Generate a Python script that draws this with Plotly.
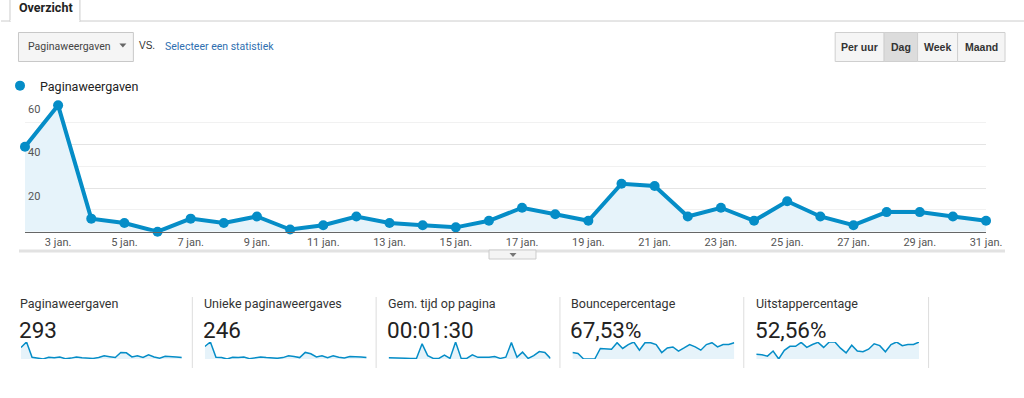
import plotly.graph_objects as go

# ---------------- data ----------------
dagen = [2, 3, 4, 5, 6, 7, 8, 9, 10, 11, 12, 13, 14, 15, 16,
         17, 18, 19, 20, 21, 22, 23, 24, 25, 26, 27, 28, 29, 30, 31]
tick_dagen = [3, 5, 7, 9, 11, 13, 15, 17, 19, 21, 23, 25, 27, 29, 31]
tick_labels = ["3 jan.", "5 jan.", "7 jan.", "9 jan.", "11 jan.", "13 jan.", "15 jan.",
               "17 jan.", "19 jan.", "21 jan.", "23 jan.", "25 jan.", "27 jan.",
               "29 jan.", "31 jan."]

paginaweergaven = [39, 58, 6, 4, 0, 6, 4, 7, 1, 3, 7, 4, 3, 2, 5,
                   11, 8, 5, 22, 21, 7, 11, 5, 14, 7, 3, 9, 9, 7, 5]
unieke_paginaweergaves = [36, 49, 5, 4, 0, 5, 4, 6, 1, 3, 6, 4, 3, 2, 4,
                          9, 7, 4, 19, 15, 6, 9, 4, 9, 5, 3, 7, 7, 6, 4]
tijd_op_pagina_sec = [45, 45, 40, 25, 20, 25, 500, 110, 20, 20, 130, 20, 560, 20, 20,
                      135, 55, 50, 60, 80, 20, 60, 540, 60, 225, 20, 110, 245, 215, 20]
bouncepercentage = [38, 33, 0, 0, 0, 62, 62, 58, 96, 62, 85, 100, 52, 96, 96,
                    85, 38, 65, 71, 46, 65, 85, 71, 52, 85, 96, 71, 85, 85, 96]
uitstappercentage = [26, 24, 16, 44, 0, 48, 70, 70, 92, 64, 80, 92, 64, 94, 94,
                     60, 34, 76, 44, 40, 54, 84, 74, 40, 80, 94, 74, 80, 80, 94]

y_tickvals = [20, 40, 60]
y_ticktext = ["20", "40", "60"]

kaart_labels = ["Paginaweergaven", "Unieke paginaweergaves", "Gem. tijd op pagina",
                "Bouncepercentage", "Uitstappercentage"]
kaart_waarden = ["293", "246", "00:01:30", "67,53%", "52,56%"]
kaart_reeksen = [paginaweergaven, unieke_paginaweergaves, tijd_op_pagina_sec,
                 bouncepercentage, uitstappercentage]
knoppen = ["Per uur", "Dag", "Week", "Maand"]

# ---------------- layout helpers ----------------
W_REF, H = 1024, 398
W = 1040            # page is captured 1040 css px wide and shown at 1024
def px(x):
    return x / W_REF
def py(y):
    return 1 - y / H

BLUE = "#058dc7"
FILL = "#e6f3fa"
FONT = "Roboto"

fig = go.Figure()

# main chart
fig.add_trace(go.Scatter(
    x=dagen, y=paginaweergaven, mode="lines+markers",
    line=dict(color=BLUE, width=4), marker=dict(color=BLUE, size=10),
    fill="tozeroy", fillcolor=FILL, cliponaxis=False, showlegend=False,
    xaxis="x", yaxis="y", hoverinfo="x+y"))
# legend entry
fig.add_trace(go.Scatter(
    x=[None], y=[None], mode="markers", name="Paginaweergaven",
    marker=dict(color=BLUE, size=10), showlegend=True, xaxis="x", yaxis="y"))

Y_TOP = 60.3
layout = dict(
    width=W, height=H, margin=dict(l=0, r=0, t=0, b=0),
    paper_bgcolor="white", plot_bgcolor="white",
    font=dict(family=FONT, color="#444", size=11),
    showlegend=True,
    legend=dict(x=px(-1), y=py(86), xanchor="left", yanchor="middle",
                font=dict(size=12.5, color="#222", family=FONT),
                itemwidth=30, bgcolor="rgba(0,0,0,0)", borderwidth=0),
    xaxis=dict(domain=[px(24), px(986)], range=[2, 31], anchor="y",
               showgrid=False, zeroline=False, showline=True, linecolor="#666",
               linewidth=1, tickvals=tick_dagen, ticktext=tick_labels, ticks="",
               tickfont=dict(size=11, color="#555"), fixedrange=True),
    yaxis=dict(domain=[py(231.7), py(101 - 0.3 * 2.178)], range=[0, Y_TOP], anchor="x",
               tickvals=y_tickvals, ticktext=y_ticktext, showgrid=True,
               gridcolor="#e4e4e4", gridwidth=1, zeroline=False, showline=False,
               ticks="", ticklabelposition="inside", ticklabelshift=8,
               tickfont=dict(size=11, color="#555"),
               minor=dict(dtick=10, tick0=0, showgrid=True, gridcolor="#f1f1f1",
                          gridwidth=1),
               fixedrange=True),
)

spark_x = [(20, 181), (204, 366), (388, 550), (572, 734), (756, 919)]
for i, reeks in enumerate(kaart_reeksen):
    n = i + 2
    fig.add_trace(go.Scatter(
        x=dagen, y=reeks, mode="lines", line=dict(color=BLUE, width=1.5),
        fill="tozeroy", fillcolor=FILL, cliponaxis=False, showlegend=False,
        xaxis=f"x{n}", yaxis=f"y{n}", hoverinfo="skip"))
    layout[f"xaxis{n}"] = dict(domain=[px(spark_x[i][0]), px(spark_x[i][1])],
                               range=[2, 31], anchor=f"y{n}", visible=False,
                               fixedrange=True)
    layout[f"yaxis{n}"] = dict(domain=[py(359), py(342)],
                               range=[0, max(reeks)], anchor=f"x{n}",
                               visible=False, fixedrange=True)

fig.update_layout(**layout)

shapes = []
annotations = []

def rect(x0, y0, x1, y1, fill, line="#ccc", lw=1, layer="above"):
    shapes.append(dict(type="rect", xref="paper", yref="paper",
                       x0=px(x0), x1=px(x1), y0=py(y1), y1=py(y0),
                       fillcolor=fill, line=dict(color=line, width=lw), layer=layer))

def line(x0, y0, x1, y1, color, lw=1):
    shapes.append(dict(type="line", xref="paper", yref="paper",
                       x0=px(x0), x1=px(x1), y0=py(y0), y1=py(y1),
                       line=dict(color=color, width=lw)))

def tri(cx, cy, w, h, color):
    path = (f"M {px(cx - w/2)} {py(cy - h/2)} L {px(cx + w/2)} {py(cy - h/2)} "
            f"L {px(cx)} {py(cy + h/2)} Z")
    shapes.append(dict(type="path", xref="paper", yref="paper", path=path,
                       fillcolor=color, line=dict(width=0)))

def text(x, y, s, size, color="#222", anchor="left", family=FONT):
    annotations.append(dict(xref="paper", yref="paper", x=px(x), y=py(y),
                            text=s, showarrow=False, xanchor=anchor,
                            yanchor="middle", font=dict(size=size, color=color,
                                                        family=family)))

# tab header
line(0, 21, 1024, 21, "#cccccc")
rect(9, -3, 79, 21.5, "white", line="#cccccc")
line(9.5, 21, 78.5, 21, "white", lw=2)
text(16, 8, "<b>Overzicht</b>", 12.5, "#222")

# dropdown
rect(17.5, 32.5, 132.5, 61.5, "#f5f5f5", line="#c8c8c8")
text(25, 46.5, "Paginaweergaven", 10.5, "#444")
tri(122, 45.5, 7, 4, "#666")
text(136, 45.5, "VS.", 10, "#333", family="Liberation Sans")
text(162, 46.5, "Selecteer een statistiek", 10.5, "#2f6fb0")

# period buttons
bx = [835, 884, 917.5, 957.5, 1005]
for j, lab in enumerate(knoppen):
    fill = "#dcdcdc" if lab == "Dag" else "#f5f5f5"
    rect(bx[j], 32.5, bx[j + 1], 61.5, fill, line="#cfcfcf")
    text((bx[j] + bx[j + 1]) / 2, 47, f"<b>{lab}</b>", 10.5, "#333",
         anchor="center", family="Liberation Sans")

# separator under the chart with handle
line(18, 251, 1005, 251, "#e2e2e2", lw=3)
rect(488.5, 250, 535.5, 259, "#f4f4f4", line="#cccccc")
tri(512.5, 255, 7, 4, "#777")

# scorecards
label_x = [18, 202, 386, 570, 755]
for i in range(5):
    text(label_x[i] - 1, 303.5, kaart_labels[i], 12.5, "#333")
    text(label_x[i] - 2, 330, kaart_waarden[i], 22.5, "#222")
for dx in [191.5, 375.5, 559.5, 743.5, 928.5]:
    line(dx, 297, dx, 368, "#dddddd")

fig.update_layout(shapes=shapes, annotations=annotations)
fig.write_html(
    "out.html",
    config={"displayModeBar": False},
    post_script=("document.body.style.margin='0';"
                 "document.body.style.padding='0';"
                 "document.body.style.overflow='hidden';"),
)
